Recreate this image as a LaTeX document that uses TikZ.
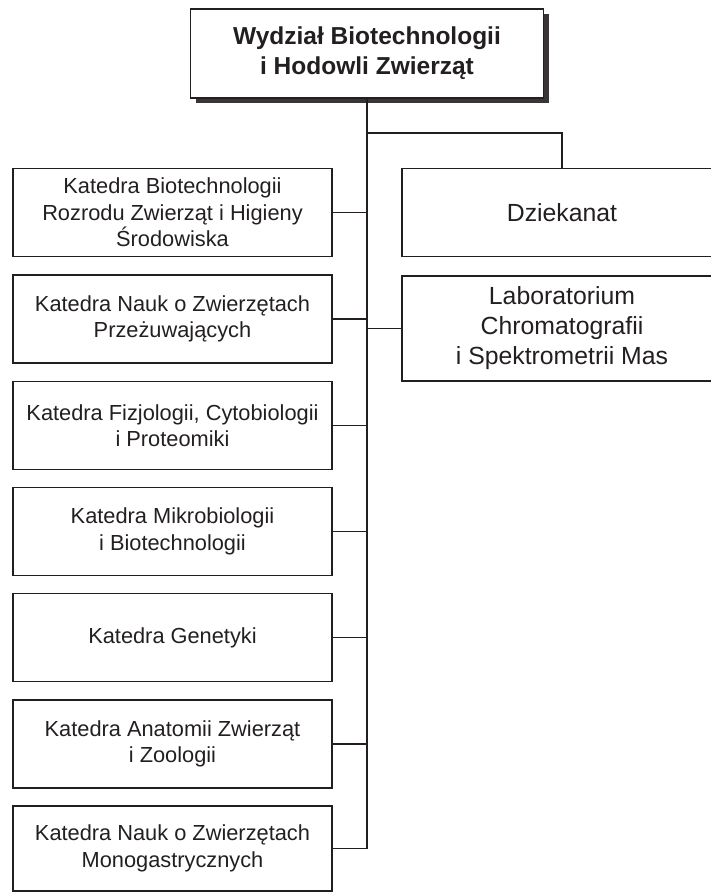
\documentclass[tikz,border=0pt]{standalone}
\usepackage{fontspec}
\setmainfont{Liberation Sans}
\usetikzlibrary{shadows}
\definecolor{ink}{HTML}{231F20}
\begin{document}
\begin{tikzpicture}[x=1pt,y=-1pt,
  unit/.style={draw=ink,line width=1.8pt,text=ink,align=center,inner sep=0pt,
    minimum width=319pt,minimum height=88pt,font=\fontsize{21.8}{26.5}\selectfont},
  office/.style={unit,minimum width=320pt,font=\fontsize{24.8}{30}\selectfont},
  head/.style={unit,minimum width=353pt,minimum height=89pt,fill=white,
    drop shadow={shadow xshift=5pt,shadow yshift=-5pt,fill=ink!90,opacity=1},
    font=\bfseries\fontsize{24.5}{30}\selectfont},
  link/.style={draw=ink,line width=1.4pt}]%
\useasboundingbox (0,0) rectangle (710,892);%
%
\node[head] (fak) at (367,53.5) {Wydział Biotechnologii\\i Hodowli Zwierząt};%
%
\node[unit] (kbr) at (172.5,212.5) {Katedra Biotechnologii\\Rozrodu Zwierząt i Higieny\\Środowiska};%
\node[unit] (knp) at (172.5,319) {Katedra Nauk o Zwierzętach\\Przeżuwających};%
\node[unit] (kfc) at (172.5,425.5) {Katedra Fizjologii, Cytobiologii\\i Proteomiki};%
\node[unit] (kmb) at (172.5,531.5) {Katedra Mikrobiologii\\i Biotechnologii};%
\node[unit] (kgen) at (172.5,637.5) {Katedra Genetyki};%
\node[unit] (kaz) at (172.5,744) {Katedra Anatomii Zwierząt\\i Zoologii};%
\node[unit,minimum height=85pt] (knm) at (172.5,848.5) {Katedra Nauk o Zwierzętach\\Monogastrycznych};%
%
\node[office] (dzk) at (562,212.5) {Dziekanat};%
\node[office,minimum height=105pt] (lab) at (562,328.5) {Laboratorium\\Chromatografii\\i Spektrometrii Mas};%
%
\coordinate (fork) at (367,133);%
\draw[link] (fak.south) -- (fork) -| (dzk.north);%
\draw[link] (fork) |- (knm.east);%
\draw[link] (kbr.east) -- (kbr.east -| fork);%
\draw[link] (knp.east) -- (knp.east -| fork);%
\draw[link] (kfc.east) -- (kfc.east -| fork);%
\draw[link] (kmb.east) -- (kmb.east -| fork);%
\draw[link] (kgen.east) -- (kgen.east -| fork);%
\draw[link] (kaz.east) -- (kaz.east -| fork);%
\draw[link] (lab.west) -- (lab.west -| fork);%
%
\end{tikzpicture}
\end{document}
